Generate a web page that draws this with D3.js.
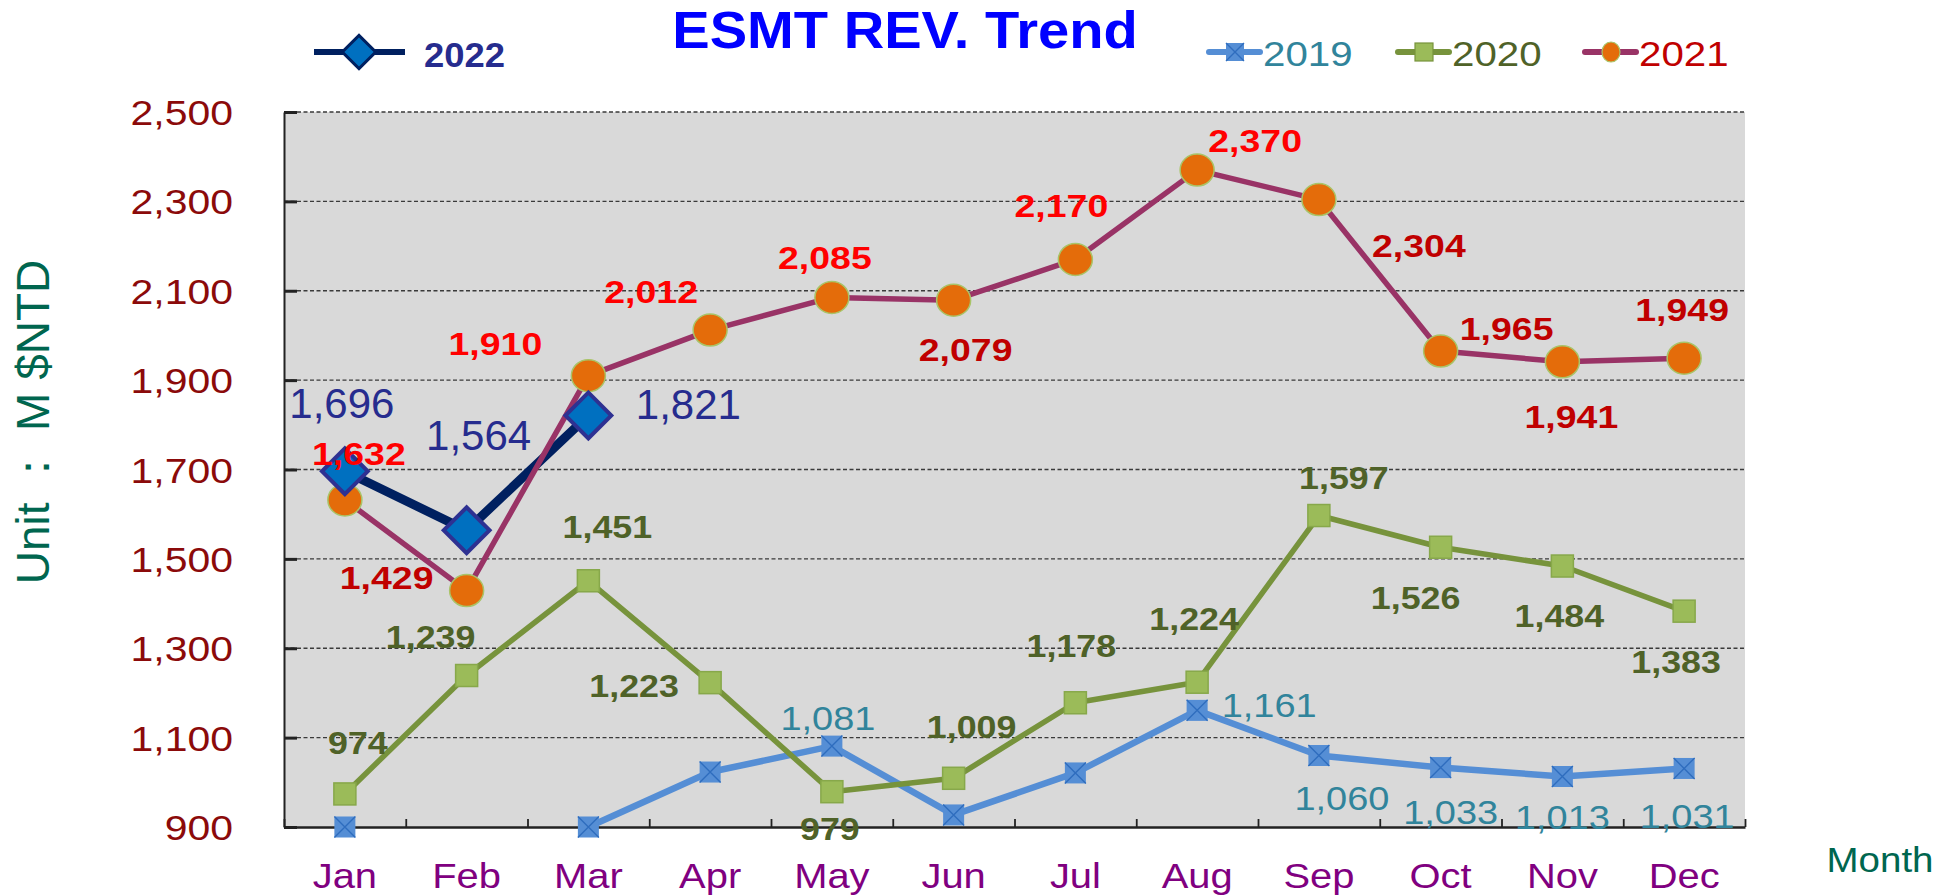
<!DOCTYPE html>
<html><head><meta charset="utf-8">
<script src="https://cdn.jsdelivr.net/npm/d3@7"></script>
<style>
body{margin:0;background:#fff;}
svg{display:block;font-family:"Liberation Sans",Arial,sans-serif;}
</style>
</head><body>
<svg id="chart" width="1955" height="896"></svg>
<script>
// ---------- data ----------
const months = ["Jan","Feb","Mar","Apr","May","Jun","Jul","Aug","Sep","Oct","Nov","Dec"];
const yTickValues = [900,1100,1300,1500,1700,1900,2100,2300,2500];
const rev2019 = [900,null,900,1023,1081,927,1021,1161,1060,1033,1013,1031];
const rev2020 = [974,1239,1451,1223,979,1009,1178,1224,1597,1526,1484,1383];
const rev2021 = [1632,1429,1910,2012,2085,2079,2170,2370,2304,1965,1941,1949];
const rev2022 = [1696,1564,1821];
const legendYears = ["2019","2020","2021"];
const titleText = "ESMT REV. Trend";

// ---------- layout (label offsets relative to their point) ----------
const off2019 = [null,null,null,null,[-4,-28],null,null,[72,-5],[23,43],[10,45],[0,41],[3,48]];
const off2020 = [[13,-51],[-36,-39],[19,-54],[-76,3],[-2,37],[18,-52],[-4,-57],[-3,-64],[25,-38],[-25,50],[-3,49],[-8,50]];
const off2021 = [[14,-46],[-80,-13],[-93,-32],[-59,-39],[-7,-40],[12,49],[-14,-54],[58,-30],[100,46],[66,-23],[9,55],[-2,-49]];
const col2021 = ["#FF0000","#C00000","#FF0000","#FF0000","#FF0000","#C00000","#FF0000","#FF0000","#C00000","#C00000","#C00000","#C00000"];
const off2022 = [[-3,-68],[12,-95],[100,-12]];

const svg = d3.select("#chart");
const plot = {left:284, right:1745, top:112, bottom:827};
const x = d3.scaleBand().domain(months).range([plot.left, plot.right]);
const xb = d3.scaleLinear().domain([0,12]).range([plot.left, plot.right]);
const y = d3.scaleLinear().domain([900,2500]).range([plot.bottom, plot.top]);
const cx = i => x(months[i]) + x.bandwidth()/2;
const fmt = d3.format(",");

function txt(g, px, py, str, o){
  return g.append("text")
    .attr("transform", `translate(${px},${py}) scale(${o.sx||1},1)`)
    .attr("text-anchor", o.anchor||"middle")
    .attr("dy", o.dy===undefined ? "0.36em" : o.dy)
    .attr("font-size", o.size)
    .attr("font-weight", o.weight||"normal")
    .attr("fill", o.fill)
    .text(str);
}

// plot background
svg.append("rect").attr("x",plot.left).attr("y",plot.top)
  .attr("width",plot.right-plot.left).attr("height",plot.bottom-plot.top).attr("fill","#D9D9D9");

// gridlines
svg.append("g").selectAll("line").data(yTickValues.filter(v=>v>900)).join("line")
  .attr("x1",plot.left).attr("x2",plot.right).attr("y1",d=>y(d)).attr("y2",d=>y(d))
  .attr("stroke","#3a3a3a").attr("stroke-width",1.3).attr("stroke-dasharray","4,2.5");

// y axis
const ya = svg.append("g").attr("transform",`translate(${plot.left},0)`)
  .call(d3.axisLeft(y).tickValues(yTickValues).tickSize(-13).tickSizeOuter(0).tickFormat(fmt));
ya.select(".domain").attr("stroke","#222").attr("stroke-width",2);
ya.selectAll(".tick line").attr("stroke","#222").attr("stroke-width",3);
ya.selectAll(".tick text").attr("x",-51/1.17).attr("dy","0.36em").attr("transform","scale(1.17,1)")
  .attr("font-size",35).attr("fill","#8B0A0A").attr("font-family","Liberation Sans, Arial, sans-serif");

// x axis: boundary ticks
const xt = svg.append("g").attr("transform",`translate(0,${plot.bottom})`)
  .call(d3.axisBottom(xb).ticks(12).tickSize(-8).tickSizeOuter(0).tickFormat(""));
xt.select(".domain").attr("stroke","#222").attr("stroke-width",2.5);
xt.selectAll(".tick line").attr("stroke","#222").attr("stroke-width",1.8);
// x axis labels
const xa = svg.append("g").attr("transform",`translate(0,${plot.bottom})`)
  .call(d3.axisBottom(x).tickSize(0));
xa.select(".domain").remove();
xa.selectAll(".tick text").attr("y",61).attr("dy",0).attr("transform","scale(1.14,1)")
  .attr("font-size",35).attr("fill","#800080").attr("font-family","Liberation Sans, Arial, sans-serif");

const line = d3.line().defined(d=>d!=null).x((d,i)=>cx(i)).y(d=>y(d));

// 2019
svg.append("path").datum(rev2019).attr("d",line).attr("fill","none")
  .attr("stroke","#558ED5").attr("stroke-width",6.5).attr("stroke-linejoin","round");
function mark2019(g, size){
  const h = size/2;
  g.append("rect").attr("x",-h).attr("y",-h).attr("width",size).attr("height",size).attr("fill","#558ED5");
  g.append("path").attr("d",`M${-h},${-h}L${h},${h}M${-h},${h}L${h},${-h}`).attr("stroke","#2F6DBE").attr("stroke-width",1.4);
}
svg.append("g").selectAll("g").data(rev2019.map((v,i)=>[v,i]).filter(d=>d[0]!=null)).join("g")
  .attr("transform",d=>`translate(${cx(d[1])},${y(d[0])})`).each(function(){ mark2019(d3.select(this),21); });

// 2020
svg.append("path").datum(rev2020).attr("d",line).attr("fill","none")
  .attr("stroke","#77933C").attr("stroke-width",5.5).attr("stroke-linejoin","round");
svg.append("g").selectAll("rect").data(rev2020).join("rect")
  .attr("x",(d,i)=>cx(i)-11).attr("y",d=>y(d)-11).attr("width",22).attr("height",22)
  .attr("fill","#9BBB59").attr("stroke","#87A84A").attr("stroke-width",1.5);

// 2022 line (under 2021 line)
svg.append("path").datum(rev2022).attr("d",line).attr("fill","none")
  .attr("stroke","#002060").attr("stroke-width",9).attr("stroke-linejoin","miter");

// 2021
svg.append("path").datum(rev2021).attr("d",line).attr("fill","none")
  .attr("stroke","#993366").attr("stroke-width",5.5).attr("stroke-linejoin","round");
svg.append("g").selectAll("ellipse").data(rev2021).join("ellipse")
  .attr("cx",(d,i)=>cx(i)).attr("cy",d=>y(d)).attr("rx",17).attr("ry",16)
  .attr("fill","#E46C0A").attr("stroke","#A9C468").attr("stroke-width",1.5);

// 2022 markers
const diamond = d3.symbol().type(d3.symbolSquare).size(1050);
svg.append("g").selectAll("path").data(rev2022).join("path")
  .attr("d",diamond).attr("transform",(d,i)=>`translate(${cx(i)},${y(d)}) rotate(45)`)
  .attr("fill","#0070C0").attr("stroke","#2E3192").attr("stroke-width",4);

// data labels
const lab = svg.append("g");
rev2019.forEach((v,i)=>{ if(v!=null && off2019[i]) txt(lab, cx(i)+off2019[i][0], y(v)+off2019[i][1], fmt(v), {size:33, fill:"#31849B", sx:1.15}); });
rev2020.forEach((v,i)=>txt(lab, cx(i)+off2020[i][0], y(v)+off2020[i][1], fmt(v), {size:32, fill:"#4F6228", weight:"bold", sx:1.12}));
rev2021.forEach((v,i)=>txt(lab, cx(i)+off2021[i][0], y(v)+off2021[i][1], fmt(v), {size:32, fill:col2021[i], weight:"bold", sx:1.17}));
rev2022.forEach((v,i)=>txt(lab, cx(i)+off2022[i][0], y(v)+off2022[i][1], fmt(v), {size:42, fill:"#262C8E", sx:1.0}));

// title
txt(svg, 905, 48, titleText, {size:51, weight:"bold", fill:"#0000FF", sx:1.1, dy:0});

// axis titles
svg.append("text").attr("transform","translate(32,422) rotate(-90)").attr("text-anchor","middle")
  .attr("dy","0.36em").attr("font-size",46).attr("fill","#00664F").text("Unit ： M $NTD");
txt(svg, 1880, 872, "Month", {size:35, fill:"#00664F", sx:1.1, dy:0});

// legend 2022
const lg22 = svg.append("g");
lg22.append("line").attr("x1",314).attr("x2",405).attr("y1",52).attr("y2",52).attr("stroke","#002060").attr("stroke-width",6);
lg22.append("path").attr("d",d3.symbol().type(d3.symbolSquare).size(560)).attr("transform","translate(359,52) rotate(45)")
  .attr("fill","#0070C0").attr("stroke","#002060").attr("stroke-width",3);
txt(lg22, 424, 67, "2022", {size:35, weight:"bold", fill:"#262C8E", sx:1.04, anchor:"start", dy:0});

// legend 2019-2021
const legX = [1209, 1398, 1585];
const legLine = ["#558ED5","#77933C","#993366"];
const legText = ["#31849B","#4F6228","#C00000"];
legendYears.forEach((yr,k)=>{
  const g = svg.append("g").attr("transform",`translate(${legX[k]},52)`);
  g.append("line").attr("x1",0).attr("x2",51).attr("y1",0).attr("y2",0).attr("stroke",legLine[k]).attr("stroke-width",6).attr("stroke-linecap","round");
  const m = g.append("g").attr("transform","translate(26,0)");
  if(k===0) mark2019(m,18);
  else if(k===1) m.append("rect").attr("x",-9).attr("y",-9).attr("width",18).attr("height",18).attr("fill","#9BBB59").attr("stroke","#77933C").attr("stroke-width",1.2);
  else m.append("ellipse").attr("rx",9).attr("ry",10).attr("fill","#E46C0A").attr("stroke","#A9C468").attr("stroke-width",1.2);
  txt(g, 54, 14, yr, {size:35, fill:legText[k], sx:1.15, anchor:"start", dy:0});
});
</script>
</body></html>
